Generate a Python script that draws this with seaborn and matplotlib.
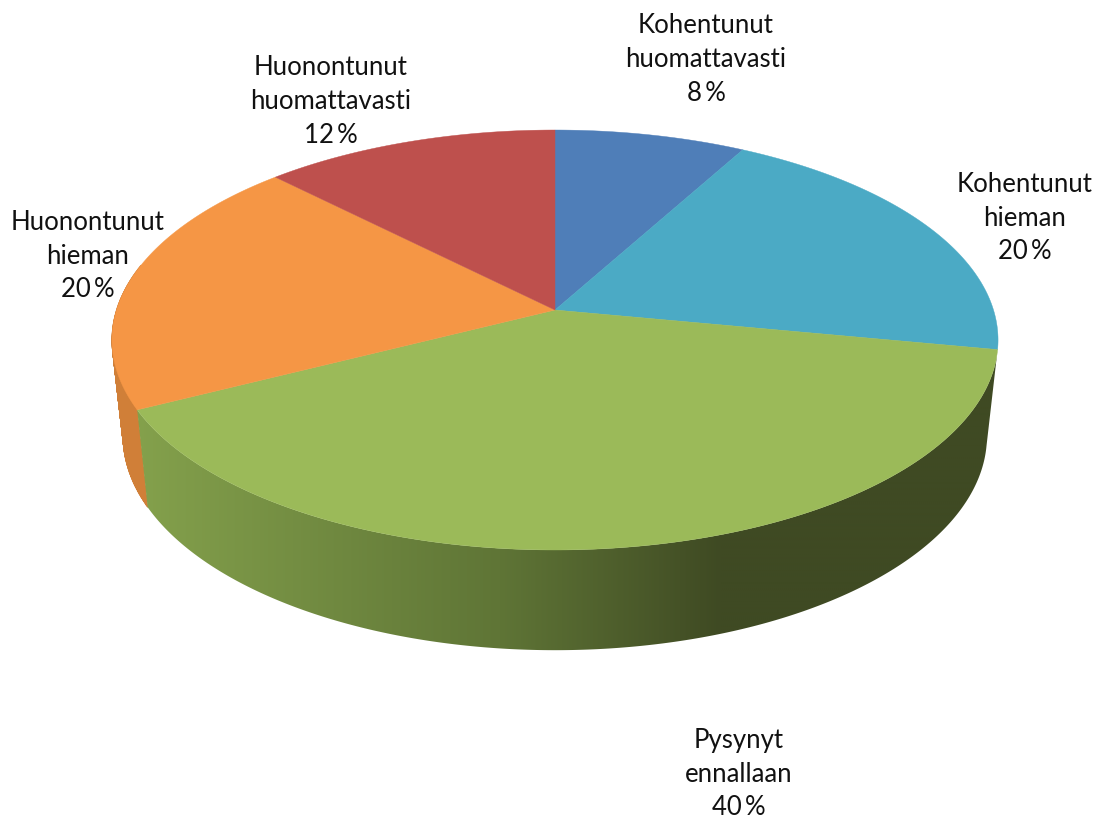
import numpy as np
import matplotlib
matplotlib.use("Agg")
import matplotlib.pyplot as plt
from matplotlib.patches import Polygon
import seaborn as sns

categories = ["Kohentunut\nhuomattavasti", "Kohentunut\nhieman", "Pysynyt\nennallaan",
              "Huonontunut\nhieman", "Huonontunut\nhuomattavasti"]
values = [8.0, 20.0, 39.5, 20.1, 12.4]
percent_labels = ["8\u2009%", "20\u2009%", "40\u2009%", "20\u2009%", "12\u2009%"]
colors = ["#4F7EB8", "#4BAAC5", "#9BBA59", "#F59645", "#BE504D"]
green_side = ["#84A14C", "#5F7536", "#3F4A23"]
orange_side = "#D07F38"
label_xy = [(706, 59.5), (1025, 218), (739, 774), (88, 256), (331, 101.5)]

sns.set_theme(style="white")
plt.rcParams["font.family"] = ["Lato", "DejaVu Sans"]

CX, CY, RX, H, P = 555.0, 310.0, 438.5, 205.7, 1 / 7
LOW_SX, LOW_SY, LOW_Y = 0.975, 1.02, 405.4
GRAD_X = [135.0, 500.0, 720.0]

fig = plt.figure(figsize=(10.99, 8.19), dpi=100)
ax = fig.add_axes([0, 0, 1, 1])


def top(theta):
    u, v = np.sin(theta), -np.cos(theta)
    k = 1 / (1 - P * v)
    return CX + RX * u * k, CY + H * v * k


def low(theta):
    x, y = top(theta)
    return CX + LOW_SX * (x - CX), LOW_Y + LOW_SY * (y - CY)


edges = np.deg2rad(np.concatenate([[0], np.cumsum(values)]) * 3.6)

# orange side wall (only its front part shows below the top face)
ts = np.linspace(edges[3], edges[3] + np.deg2rad(40), 140)
for t0, t1 in zip(ts[:-1], ts[1:]):
    x0, y0 = top(t0)
    x1, y1 = top(t1)
    xl0, yl0 = low(t0)
    xl1, yl1 = low(t1)
    ax.fill([x0, x1, xl1, xl0], [y0, y1, yl1, yl0], color=orange_side, lw=0.6, zorder=1)

# green side wall: horizontal gradient clipped to the wall outline
ts = np.linspace(edges[2], edges[3], 400)
xt, yt = top(ts)
xb, yb = low(ts)
outline = np.column_stack([np.r_[xt, xb[::-1]], np.r_[yt, yb[::-1]]])
clip = Polygon(outline, closed=True, transform=ax.transData, fc="none", ec="none")
ax.add_patch(clip)
pal = np.array(sns.blend_palette(green_side, 3))
xs = np.arange(100, 1020, 2.0)
strip = np.stack([np.interp(xs, GRAD_X, pal[:, j]) for j in range(3)], axis=-1)[None, :, :]
im = ax.imshow(strip, extent=(100, 1020, 700, 300), aspect="auto", interpolation="bilinear", zorder=1.5)
im.set_clip_path(clip)

# top face
for i, c in enumerate(colors):
    ts = np.linspace(edges[i], edges[i + 1], 200)
    xs_top, ys_top = top(ts)
    ax.fill(np.r_[CX, xs_top], np.r_[CY, ys_top], color=c, lw=0.3, zorder=2)

for name, pct, (x, y) in zip(categories, percent_labels, label_xy):
    ax.text(x, y, f"{name}\n{pct}", ha="center", va="center", fontsize=18.5,
            color="#111111", linespacing=1.43, zorder=3)

ax.set_xlim(0, 1099)
ax.set_ylim(819, 0)
ax.axis("off")
fig.savefig("out.png", dpi=100, facecolor="white")
